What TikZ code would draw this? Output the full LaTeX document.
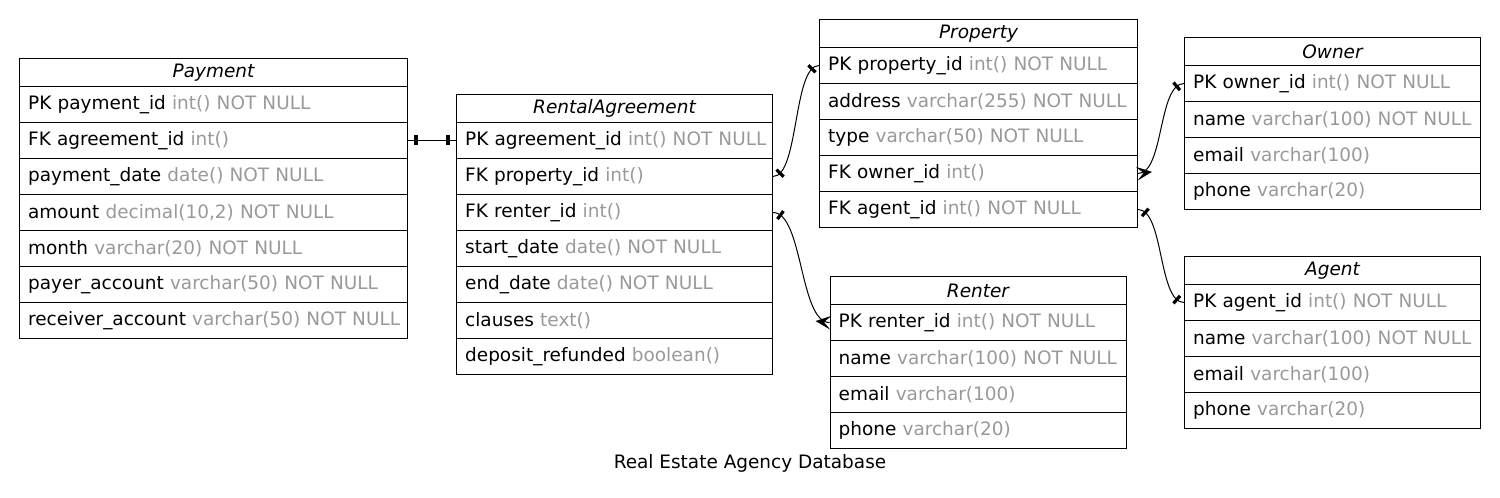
\documentclass[tikz,border=0pt]{standalone}
\usepackage{fontspec}
\setmainfont{DejaVu Sans}
\usetikzlibrary{decorations.markings}
\definecolor{typegray}{RGB}{153,153,153}
\newcommand\coltype[1]{\textcolor{typegray}{#1}}
\tikzset{
  head/.style={draw, line width=0.75pt, anchor=north west, minimum width=#1,
    minimum height=21pt, inner sep=0pt, font=\fontsize{13.85pt}{16pt}\selectfont\itshape},
  row/.style={draw, line width=0.75pt, anchor=north west, minimum height=27pt,
    inner xsep=6.5pt, inner ysep=0pt, text width=#1, align=left,
    font=\fontsize{13.85pt}{16pt}\selectfont},
  rel/.style={line width=0.75pt},
  tee start/.style={postaction={decorate, decoration={markings,
    mark=at position 6pt with {\draw[line width=2.4pt] (0pt,-3.75pt) -- (0pt,3.75pt);}}}},
  tee end/.style={postaction={decorate, decoration={markings,
    mark=at position -6pt with {\draw[line width=2.4pt] (0pt,-3.75pt) -- (0pt,3.75pt);}}}},
  crow start/.style={postaction={decorate, decoration={markings,
    mark=at position 1pt with {\filldraw[line width=0.4pt] (-1pt,4.5pt) -- (9pt,0pt) -- (-1pt,-4.5pt) -- (3.5pt,0pt) -- cycle;}}}},
  crow end/.style={postaction={decorate, decoration={markings,
    mark=at position -1pt with {\filldraw[line width=0.4pt] (1pt,4.5pt) -- (-9pt,0pt) -- (1pt,-4.5pt) -- (-3.5pt,0pt) -- cycle;}}}}
}
\begin{document}
\begin{tikzpicture}[x=0.75pt, y=-0.75pt]
  \useasboundingbox (0,0) rectangle (1500,498);

  % Payment
  \node[head=291pt] (pay) at (19,58) {Payment};
  \foreach \f [count=\i] in {PK payment\_id \coltype{int() NOT NULL},
      FK agreement\_id \coltype{int()}, payment\_date \coltype{date() NOT NULL},
      {amount \coltype{decimal(10,2) NOT NULL}}, month \coltype{varchar(20) NOT NULL},
      payer\_account \coltype{varchar(50) NOT NULL},
      receiver\_account \coltype{varchar(50) NOT NULL}}
    \node[row=278pt] (pay-\i) at (19,{86+(\i-1)*36}) {\mbox{\f}};

  % RentalAgreement
  \node[head=237pt] (ra) at (456,94) {RentalAgreement};
  \foreach \f [count=\i] in {PK agreement\_id \coltype{int() NOT NULL},
      FK property\_id \coltype{int()}, FK renter\_id \coltype{int()},
      start\_date \coltype{date() NOT NULL}, end\_date \coltype{date() NOT NULL},
      clauses \coltype{text()}, deposit\_refunded \coltype{boolean()}}
    \node[row=224pt] (ra-\i) at (456,{122+(\i-1)*36}) {\mbox{\f}};

  % Property
  \node[head=238.5pt] (prop) at (819,19) {Property};
  \foreach \f [count=\i] in {PK property\_id \coltype{int() NOT NULL},
      address \coltype{varchar(255) NOT NULL}, type \coltype{varchar(50) NOT NULL},
      FK owner\_id \coltype{int()}, FK agent\_id \coltype{int() NOT NULL}}
    \node[row=225.5pt] (prop-\i) at (819,{47+(\i-1)*36}) {\mbox{\f}};

  % Owner
  \node[head=222pt] (own) at (1184,37) {Owner};
  \foreach \f [count=\i] in {PK owner\_id \coltype{int() NOT NULL},
      name \coltype{varchar(100) NOT NULL}, email \coltype{varchar(100)},
      phone \coltype{varchar(20)}}
    \node[row=209pt] (own-\i) at (1184,{65+(\i-1)*36}) {\mbox{\f}};

  % Agent
  \node[head=222pt] (agt) at (1184,256) {Agent};
  \foreach \f [count=\i] in {PK agent\_id \coltype{int() NOT NULL},
      name \coltype{varchar(100) NOT NULL}, email \coltype{varchar(100)},
      phone \coltype{varchar(20)}}
    \node[row=209pt] (agt-\i) at (1184,{284+(\i-1)*36}) {\mbox{\f}};

  % Renter
  \node[head=222pt] (rent) at (829.5,276) {Renter};
  \foreach \f [count=\i] in {PK renter\_id \coltype{int() NOT NULL},
      name \coltype{varchar(100) NOT NULL}, email \coltype{varchar(100)},
      phone \coltype{varchar(20)}}
    \node[row=209pt] (rent-\i) at (829.5,{304+(\i-1)*36}) {\mbox{\f}};

  % relations
  \draw[rel, tee start, tee end] (pay-2.east) -- (ra-1.west);
  \draw[rel, tee start, tee end] (ra-2.east) .. controls +(26,0) and +(-26,0) .. (prop-1.west);
  \draw[rel, tee start, crow end] (ra-3.east) .. controls +(30,0) and +(-30,0) .. (rent-1.west);
  \draw[rel, crow start, tee end] (prop-4.east) .. controls +(26,0) and +(-26,0) .. (own-1.west);
  \draw[rel, tee start, tee end] (prop-5.east) .. controls +(26,0) and +(-26,0) .. (agt-1.west);

  \node[font=\fontsize{13.85pt}{16pt}\selectfont] (title) at (750,463) {Real Estate Agency Database};
\end{tikzpicture}
\end{document}
